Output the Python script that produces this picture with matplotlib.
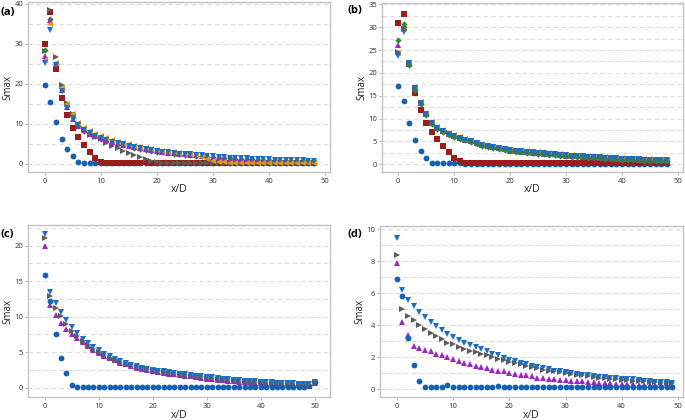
import numpy as np
import matplotlib
matplotlib.use("Agg")
import matplotlib.pyplot as plt
from matplotlib.ticker import MultipleLocator

plt.rcParams['font.family'] = ['Open Sans', 'DejaVu Sans']

# ---- panel (a): x/D = 0..48 ----
a_x = list(range(49))
a_circle = [19.8, 15.6, 10.6, 6.2, 3.7, 1.9, 0.6, 0.3, 0.2, 0.2, 0.2, 0.15, 0.15, 0.15, 0.15,
            0.15, 0.15, 0.15, 0.15, 0.15, 0.15, 0.15, 0.15, 0.15, 0.15, 0.15, 0.15, 0.15, 0.15,
            0.15, 0.15, 0.15, 0.15, 0.15, 0.15, 0.15, 0.15, 0.15, 0.15, 0.15, 0.15, 0.15, 0.15,
            0.15, 0.15, 0.15, 0.15, 0.15, 0.15]
a_square = [30.0, 38.1, 23.7, 16.6, 12.3, 8.9, 6.8, 4.8, 3.1, 1.6, 0.6, 0.35, 0.3, 0.3, 0.3,
            0.35, 0.3, 0.3, 0.4, 0.3, 0.3, 0.3, 0.3, 0.3, 0.3, 0.3, 0.3, 0.3, 0.3, 0.3, 0.3, 0.3,
            0.3, 0.3, 0.3, 0.3, 0.3, 0.3, 0.3, 0.3, 0.3, 0.3, 0.3, 0.3, 0.3, 0.3, 0.3, 0.3, 0.3]
a_right = [28.3, 38.5, 26.7, 19.8, 15.2, 12.6, 10.0, 8.8, 7.3, 6.8, 6.2, 5.3, 4.5, 3.9, 3.25,
           2.8, 2.25, 1.8, 1.25, 0.8, 0.55, 0.35, 0.3, 0.25, 0.25, 0.25, 0.25, 0.25, 0.25, 0.25,
           0.25, 0.25, 0.25, 0.25, 0.25, 0.25, 0.25, 0.25, 0.25, 0.25, 0.25, 0.25, 0.25, 0.25,
           0.25, 0.25, 0.25, 0.25, 0.25]
a_diamond = [28.5, 36.3, 24.9, 18.5, 14.5, 11.8, 9.5, 8.3, 7.5, 6.9, 6.3, 5.8, 5.4, 5.0, 4.7,
             4.4, 4.1, 3.85, 3.6, 3.35, 3.1, 2.9, 2.7, 2.55, 2.4, 2.3, 2.2, 2.1, 2.0, 1.85, 1.7,
             1.6, 1.5, 1.4, 1.3, 1.25, 1.2, 1.15, 1.05, 1.0, 0.95, 0.9, 0.85, 0.8, 0.75, 0.7,
             0.7, 0.65, 0.65]
a_up = [27.0, 36.0, 25.0, 18.6, 14.3, 11.3, 9.5, 8.4, 7.6, 7.0, 6.4, 5.9, 5.5, 5.2, 4.8, 4.5,
        4.2, 4.0, 3.75, 3.5, 3.25, 3.0, 2.8, 2.65, 2.5, 2.4, 2.3, 2.2, 2.1, 1.95, 1.8, 1.7, 1.6,
        1.5, 1.4, 1.35, 1.3, 1.25, 1.15, 1.1, 1.05, 1.0, 0.95, 0.9, 0.85, 0.8, 0.8, 0.75, 0.75]
a_left = [26.1, 35.0, 25.3, 19.0, 15.0, 12.5, 10.2, 9.0, 8.2, 7.6, 7.0, 6.5, 6.0, 5.6, 5.2, 4.9,
          4.6, 4.3, 4.0, 3.75, 3.5, 3.3, 3.1, 2.9, 2.75, 2.6, 2.45, 2.2, 1.8, 1.3, 0.8, 0.5, 0.4,
          0.35, 0.3, 0.3, 0.3, 0.3, 0.3, 0.3, 0.3, 0.3, 0.3, 0.3, 0.3, 0.3, 0.3, 0.3, 0.3]
a_down = [25.2, 33.5, 24.7, 18.3, 14.0, 11.6, 9.7, 8.5, 7.7, 7.1, 6.5, 6.0, 5.6, 5.3, 4.9, 4.6,
          4.3, 4.1, 3.85, 3.6, 3.35, 3.1, 2.9, 2.75, 2.6, 2.5, 2.4, 2.3, 2.2, 2.05, 1.9, 1.8, 1.7,
          1.6, 1.5, 1.45, 1.4, 1.35, 1.25, 1.2, 1.15, 1.1, 1.05, 1.0, 0.95, 0.9, 0.9, 0.85, 0.85]

# ---- panel (b): x/D = 0..48 ----
b_x = list(range(49))
b_circle = [17.2, 13.9, 9.0, 5.4, 3.0, 1.45, 0.3, 0.2, 0.2, 0.3, 0.2, 0.2, 0.15, 0.15, 0.15,
            0.15, 0.15, 0.15, 0.15, 0.15, 0.15, 0.15, 0.15, 0.15, 0.15, 0.15, 0.15, 0.15, 0.15,
            0.15, 0.15, 0.15, 0.15, 0.15, 0.15, 0.15, 0.15, 0.15, 0.15, 0.15, 0.15, 0.15, 0.15,
            0.15, 0.15, 0.15, 0.15, 0.15, 0.15]
b_square = [31.0, 32.9, 22.0, 15.5, 11.9, 9.1, 7.0, 5.5, 3.9, 2.6, 1.45, 0.65, 0.2, 0.2, 0.2,
            0.2, 0.2, 0.2, 0.35, 0.2, 0.2, 0.2, 0.2, 0.35, 0.2, 0.2, 0.2, 0.2, 0.2, 0.2, 0.35,
            0.2, 0.2, 0.2, 0.2, 0.2, 0.2, 0.2, 0.2, 0.2, 0.2, 0.2, 0.2, 0.2, 0.2, 0.2, 0.2, 0.2, 0.2]
b_diamond = [27.1, 30.8, 21.7, 16.3, 13.2, 10.7, 8.8, 7.8, 7.0, 6.5, 5.9, 5.5, 5.2, 4.8, 4.4,
             4.0, 3.75, 3.5, 3.3, 3.05, 2.85, 2.7, 2.6, 2.5, 2.4, 2.3, 2.2, 2.1, 2.0, 1.9, 1.75,
             1.65, 1.6, 1.5, 1.4, 1.35, 1.3, 1.2, 1.15, 1.1, 1.0, 0.95, 0.9, 0.85, 0.8, 0.75,
             0.7, 0.7, 0.65]
b_up = [26.0, 30.4, 22.0, 16.5, 13.4, 10.9, 9.0, 7.9, 7.2, 6.7, 6.1, 5.7, 5.4, 5.0, 4.6, 4.2,
        3.95, 3.7, 3.5, 3.25, 3.0, 2.85, 2.75, 2.65, 2.55, 2.45, 2.35, 2.25, 2.15, 2.05, 1.9,
        1.8, 1.75, 1.65, 1.55, 1.5, 1.45, 1.35, 1.3, 1.25, 1.15, 1.1, 1.05, 1.0, 0.95, 0.9,
        0.85, 0.85, 0.8]
b_right = [24.5, 29.5, 22.1, 16.7, 13.5, 11.0, 9.1, 8.0, 7.3, 6.8, 6.2, 5.8, 5.45, 5.05, 4.65,
           4.25, 4.0, 3.75, 3.55, 3.3, 3.1, 2.95, 2.85, 2.75, 2.65, 2.55, 2.45, 2.35, 2.25, 2.15,
           2.0, 1.9, 1.85, 1.75, 1.65, 1.6, 1.55, 1.45, 1.4, 1.35, 1.25, 1.2, 1.15, 1.1, 1.05,
           1.0, 0.95, 0.95, 0.9]
b_left = [24.3, 29.7, 22.2, 16.8, 13.6, 11.1, 9.2, 8.1, 7.4, 6.9, 6.3, 5.9, 5.5, 5.1, 4.7, 4.3,
          4.05, 3.8, 3.6, 3.35, 3.15, 3.0, 2.9, 2.8, 2.7, 2.6, 2.5, 2.4, 2.3, 2.2, 2.05, 1.95,
          1.9, 1.8, 1.7, 1.65, 1.6, 1.5, 1.45, 1.4, 1.3, 1.25, 1.2, 1.15, 1.1, 1.05, 1.0, 1.0,
          0.95]
b_down = [23.8, 29.0, 22.1, 16.7, 13.5, 11.0, 9.0, 7.9, 7.2, 6.7, 6.1, 5.7, 5.4, 5.0, 4.6,
          4.2, 3.95, 3.7, 3.5, 3.25, 3.05, 2.9, 2.8, 2.7, 2.6, 2.5, 2.4, 2.3, 2.2, 2.1, 1.95,
          1.85, 1.8, 1.7, 1.6, 1.55, 1.5, 1.4, 1.35, 1.3, 1.2, 1.15, 1.1, 1.05, 1.0, 0.95, 0.9,
          0.9, 0.85]

# ---- panel (c): x/D = 0..50 ----
c_x = list(range(51))
c_circle = [15.8, 12.2, 7.6, 4.2, 2.1, 0.45, 0.15, 0.12, 0.1, 0.1, 0.15, 0.15, 0.1, 0.15, 0.1,
            0.15, 0.15, 0.15, 0.15, 0.1, 0.15, 0.15, 0.1, 0.1, 0.15, 0.1, 0.15, 0.1, 0.1, 0.15,
            0.1, 0.15, 0.1, 0.1, 0.15, 0.1, 0.1, 0.15, 0.1, 0.1, 0.15, 0.1, 0.1, 0.15, 0.1, 0.1,
            0.15, 0.1, 0.1, 0.2, 0.8]
c_up = [20.0, 11.7, 10.2, 9.1, 8.3, 7.5, 7.0, 6.4, 5.9, 5.35, 4.9, 4.5, 4.15, 3.85, 3.55, 3.3,
        3.05, 2.85, 2.65, 2.5, 2.35, 2.2, 2.1, 2.0, 1.9, 1.8, 1.7, 1.6, 1.5, 1.4, 1.3, 1.25, 1.15,
        1.1, 1.0, 0.95, 0.85, 0.8, 0.75, 0.7, 0.65, 0.6, 0.55, 0.5, 0.45, 0.42, 0.4, 0.37, 0.35,
        0.3, 0.7]
c_right = [21.1, 12.9, 11.2, 10.1, 9.0, 8.0, 7.3, 6.6, 6.0, 5.5, 5.05, 4.6, 4.25, 3.95, 3.65,
           3.4, 3.15, 2.95, 2.75, 2.6, 2.45, 2.3, 2.2, 2.1, 2.0, 1.9, 1.8, 1.7, 1.6, 1.5, 1.4,
           1.35, 1.25, 1.2, 1.1, 1.05, 0.95, 0.9, 0.85, 0.8, 0.75, 0.7, 0.65, 0.6, 0.58, 0.55,
           0.5, 0.48, 0.45, 0.42, 0.8]
c_down = [21.6, 13.5, 11.9, 10.6, 9.5, 8.5, 7.7, 6.9, 6.3, 5.7, 5.25, 4.8, 4.4, 4.1, 3.8, 3.5,
          3.25, 3.05, 2.85, 2.7, 2.55, 2.4, 2.3, 2.2, 2.1, 2.0, 1.9, 1.8, 1.7, 1.6, 1.5, 1.45,
          1.35, 1.3, 1.2, 1.15, 1.05, 1.0, 0.95, 0.9, 0.85, 0.8, 0.75, 0.7, 0.68, 0.65, 0.6,
          0.58, 0.55, 0.5, 0.85]

# ---- panel (d): x/D = 0..49 ----
d_x = list(range(50))
d_circle = [6.9, 5.8, 3.2, 1.5, 0.5, 0.1, 0.1, 0.1, 0.1, 0.28, 0.1, 0.1, 0.1, 0.12, 0.1, 0.1,
            0.1, 0.15, 0.2, 0.1, 0.1, 0.1, 0.1, 0.12, 0.1, 0.12, 0.1, 0.1, 0.1, 0.1, 0.15, 0.12,
            0.1, 0.1, 0.12, 0.1, 0.1, 0.1, 0.12, 0.1, 0.1, 0.12, 0.1, 0.1, 0.15, 0.1, 0.1, 0.12,
            0.1, 0.1]
d_up = [7.9, 4.2, 3.35, 2.7, 2.55, 2.45, 2.35, 2.2, 2.1, 2.0, 1.85, 1.75, 1.65, 1.55, 1.45, 1.4,
        1.3, 1.2, 1.15, 1.1, 1.0, 0.95, 0.9, 0.85, 0.8, 0.72, 0.68, 0.65, 0.6, 0.58, 0.55, 0.52,
        0.5, 0.48, 0.45, 0.42, 0.4, 0.38, 0.36, 0.34, 0.32, 0.3, 0.3, 0.28, 0.27, 0.26, 0.25,
        0.24, 0.23, 0.22]
d_right = [8.4, 5.0, 4.55, 4.3, 4.0, 3.75, 3.5, 3.3, 3.1, 2.9, 2.8, 2.65, 2.5, 2.4, 2.3, 2.2,
           2.1, 2.0, 1.9, 1.8, 1.7, 1.62, 1.55, 1.45, 1.35, 1.3, 1.22, 1.15, 1.1, 1.05, 1.0,
           0.95, 0.9, 0.85, 0.8, 0.75, 0.72, 0.68, 0.65, 0.6, 0.58, 0.55, 0.52, 0.5, 0.47, 0.45,
           0.42, 0.4, 0.38, 0.35]
d_down = [9.45, 6.2, 5.6, 5.2, 4.85, 4.5, 4.2, 3.95, 3.7, 3.45, 3.25, 3.05, 2.9, 2.75, 2.6, 2.5,
          2.35, 2.2, 2.1, 1.95, 1.8, 1.75, 1.65, 1.55, 1.45, 1.4, 1.3, 1.25, 1.15, 1.1, 1.05,
          1.0, 0.95, 0.9, 0.85, 0.8, 0.78, 0.75, 0.7, 0.68, 0.65, 0.6, 0.6, 0.55, 0.5, 0.48,
          0.45, 0.45, 0.42, 0.4]

# marker styles per series
style = {
    'circle':  dict(marker='o', color='#1560b0'),
    'square':  dict(marker='s', color='#9c1c1c'),
    'right':   dict(marker='>', color='#5c5c5c'),
    'diamond': dict(marker='D', color='#2b8a2b'),
    'up':      dict(marker='^', color='#9d28c0'),
    'left':    dict(marker='<', color='#e0961a'),
    'down':    dict(marker='v', color='#1a6ec4'),
}
ms = {'o': 4.2, 's': 4.0, '>': 4.4, 'D': 3.2, '^': 4.4, '<': 4.4, 'v': 4.4}

# label, axes box in px (l, t, r, b), x, series, ylim, major, minor, xlim, panel-label left/centre-y
panels = [
    ('(a)', [28, 2, 330, 172], a_x,
     [('circle', a_circle), ('square', a_square), ('right', a_right), ('diamond', a_diamond),
      ('up', a_up), ('left', a_left), ('down', a_down)],
     (-2.0, 40.5), 10, 5, (-3.0, 50.9), (0.5, 12)),
    ('(b)', [382, 3, 683, 172], b_x,
     [('circle', b_circle), ('square', b_square), ('left', b_left), ('right', b_right),
      ('up', b_up), ('diamond', b_diamond), ('down', b_down)],
     (-1.7, 35.3), 5, 2.5, (-2.9, 50.9), (348, 10)),
    ('(c)', [28, 225, 330, 397], c_x,
     [('up', c_up), ('circle', c_circle), ('right', c_right), ('down', c_down)],
     (-1.3, 22.9), 5, 2.5, (-3.1, 52.8), (0.5, 234)),
    ('(d)', [380, 226, 683, 397], d_x,
     [('up', d_up), ('right', d_right), ('circle', d_circle), ('down', d_down)],
     (-0.5, 10.2), 2, 1, (-3.0, 50.9), (348, 234)),
]

W, H = 685, 420
fig = plt.figure(figsize=(W / 100, H / 100), dpi=100)

for label, (x0, y0, x1, y1), xs, series, ylim, ymaj, ymin, xlim, lpos in panels:
    ax = fig.add_axes([x0 / W, 1 - y1 / H, (x1 - x0) / W, (y1 - y0) / H])
    for name, vals in series:
        st = style[name]
        ax.plot(xs, vals, linestyle='none', marker=st['marker'], color=st['color'],
                markersize=ms[st['marker']], markeredgewidth=0)
    ax.set_xlim(*xlim)
    ax.set_ylim(*ylim)
    ax.xaxis.set_major_locator(MultipleLocator(10))
    ax.yaxis.set_major_locator(MultipleLocator(ymaj))
    ax.yaxis.set_minor_locator(MultipleLocator(ymin))
    ax.grid(True, axis='y', which='both', linestyle=(0, (4, 3)), color='#dedede', linewidth=0.8)
    ax.set_axisbelow(True)
    for sp in ax.spines.values():
        sp.set_color('#c4c4c4')
        sp.set_linewidth(1.0)
    ax.tick_params(axis='both', which='major', labelsize=5.5, length=2, width=0.6,
                   color='#aaaaaa', labelcolor='#333333', pad=2)
    ax.tick_params(axis='y', which='major', pad=1.5)
    ax.tick_params(axis='y', which='minor', length=0)
    ax.set_xlabel('x/D', fontsize=7.5, color='#222222')
    ax.set_ylabel('Smax', fontsize=7, color='#222222')
    w_px, h_px = x1 - x0, y1 - y0
    ax.xaxis.set_label_coords(0.5, -18 / h_px)
    ax.yaxis.set_label_coords(-20 / w_px, 0.5)
    ax.yaxis.label.set_va('center')
    ax.xaxis.label.set_va('center')
    fig.text(lpos[0] / W, 1 - lpos[1] / H, label, fontsize=8, fontweight='bold',
             ha='left', va='center')

fig.savefig('out.png', dpi=100)
